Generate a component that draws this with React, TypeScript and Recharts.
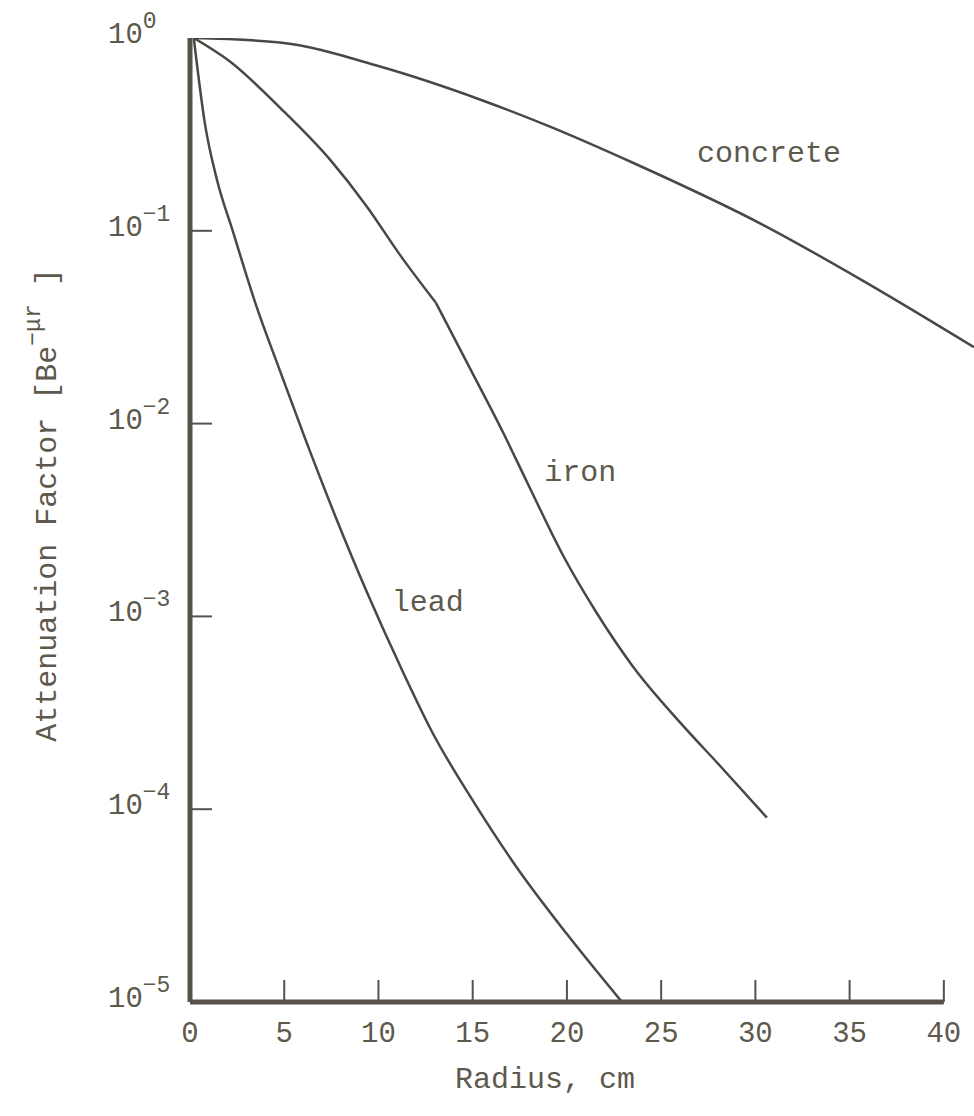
import React from 'react';
import { LineChart, Line, XAxis, YAxis, ReferenceLine, ReferenceDot } from 'recharts';

// Attenuation factor vs radius (log scale)
const radiusTicks = [0, 5, 10, 15, 20, 25, 30, 35, 40];
const factorTicks = [1, 1e-1, 1e-2, 1e-3, 1e-4, 1e-5];

const concreteRadius = [0.2, 4.77, 10.08, 15.38, 19.1, 23.5, 30.4, 35.9, 41.6];
const concreteFactor = [1, 0.948, 0.711, 0.48, 0.347, 0.2254, 0.1074, 0.0537, 0.0249];

// iron has a visible kink near 13 cm, so it is drawn as two pieces
const ironUpperRadius = [0.2, 2.12, 4.77, 7.43, 9.39, 11.14, 13.05];
const ironUpperFactor = [1, 0.755, 0.4355, 0.2339, 0.1334, 0.075, 0.0423];
const ironLowerRadius = [13.05, 14.85, 16.6, 18.04, 19.79, 21.59, 23.5, 26.0, 28.12, 30.61];
const ironLowerFactor = [0.0423, 0.0194, 0.00904, 0.00462, 0.002075, 0.001038, 0.00055, 0.000282, 0.000168, 0.0000904];

const leadRadius = [0.2, 0.8, 1.43, 2.28, 3.5, 4.72, 6.1, 7.69, 9.39, 11.14, 12.89, 15.01, 17.35, 20.0, 22.92];
const leadFactor = [
  1, 0.3556, 0.184, 0.0989, 0.0413, 0.0194, 0.00841, 0.00335, 0.001334, 0.000556, 0.000247, 0.0001107,
  0.0000497, 0.0000225, 0.00001,
];

const toRows = (r: number[], f: number[]) => r.map((x, i) => ({ r: x, f: f[i] }));

const INK = '#4b4743';
const AXIS = '#57514c';
const TEXT = '#5d594c';
const FONT = '"Liberation Mono", "DejaVu Sans Mono", monospace';

const XTick = (props: any) => {
  const { x, y, payload } = props;
  return (
    <g>
      {payload.value !== 0 && <line x1={x} y1={y} x2={x} y2={y - 22} stroke={AXIS} strokeWidth={2} />}
      <text x={x} y={y + 40} textAnchor="middle" fill={TEXT} fontSize={29} fontFamily={FONT}>
        {payload.value}
      </text>
    </g>
  );
};

const YTick = (props: any) => {
  const { x, y, payload } = props;
  const exp = Math.round(Math.log10(payload.value));
  return (
    <g>
      {exp !== 0 && exp !== -5 && <line x1={x} y1={y} x2={x + 22} y2={y} stroke={AXIS} strokeWidth={2} />}
      <text x={x - 82} y={y + 5} fill={TEXT} fontSize={29} fontFamily={FONT}>
        10
        <tspan dy={-15} fontSize={23}>
          {exp === 0 ? '0' : '\u2212' + Math.abs(exp)}
        </tspan>
      </text>
    </g>
  );
};

const curveLabel = (value: string) => ({
  value,
  position: 'right' as const,
  offset: 0,
  fill: TEXT,
  fontSize: 30,
  fontFamily: FONT,
});

const lineProps = {
  dataKey: 'f',
  type: 'monotone' as const,
  stroke: INK,
  strokeWidth: 2.5,
  dot: false,
  isAnimationActive: false,
};

export default function App() {
  return (
    <div style={{ position: 'absolute', left: 0, top: 0, width: 974, height: 1116, background: '#fff' }}>
      <LineChart width={974} height={1116} margin={{ top: 38, right: 0, bottom: 0, left: 0 }}>
        <XAxis
          type="number"
          dataKey="r"
          domain={[0, 41.6]}
          ticks={radiusTicks}
          allowDataOverflow
          height={114}
          axisLine={false}
          tickLine={false}
          tickSize={0}
          tickMargin={0}
          tick={<XTick />}
        />
        <YAxis
          type="number"
          dataKey="f"
          scale="log"
          domain={[1e-5, 1]}
          ticks={factorTicks}
          allowDataOverflow
          width={190}
          axisLine={{ stroke: AXIS, strokeWidth: 5 }}
          tickLine={false}
          tickSize={0}
          tickMargin={0}
          tick={<YTick />}
        />
        <Line data={toRows(concreteRadius, concreteFactor)} {...lineProps} />
        <Line data={toRows(ironUpperRadius, ironUpperFactor)} {...lineProps} />
        <Line data={toRows(ironLowerRadius, ironLowerFactor)} {...lineProps} />
        <Line data={toRows(leadRadius, leadFactor)} {...lineProps} />
        <ReferenceLine
          segment={[
            { x: 0, y: 1e-5 },
            { x: 40, y: 1e-5 },
          ]}
          stroke={AXIS}
          strokeWidth={5}
        />
        <ReferenceDot x={26.9} y={0.257} r={0} fill="none" stroke="none" label={curveLabel('concrete')} />
        <ReferenceDot x={18.8} y={0.00573} r={0} fill="none" stroke="none" label={curveLabel('iron')} />
        <ReferenceDot x={10.7} y={0.00121} r={0} fill="none" stroke="none" label={curveLabel('lead')} />
      </LineChart>
      <svg width={974} height={1116} style={{ position: 'absolute', left: 0, top: 0, pointerEvents: 'none' }}>
        <text x={545} y={1088} textAnchor="middle" fill={TEXT} fontSize={30} fontFamily={FONT}>
          Radius, cm
        </text>
        <text
          x={0}
          y={0}
          transform="translate(56 505) rotate(-90)"
          textAnchor="middle"
          fill={TEXT}
          fontSize={30}
          fontFamily={FONT}
        >
          Attenuation Factor [Be
          <tspan dy={-16} fontSize={23}>
            {'\u2212\u03bcr'}
          </tspan>
          <tspan dy={16}> ]</tspan>
        </text>
      </svg>
    </div>
  );
}
